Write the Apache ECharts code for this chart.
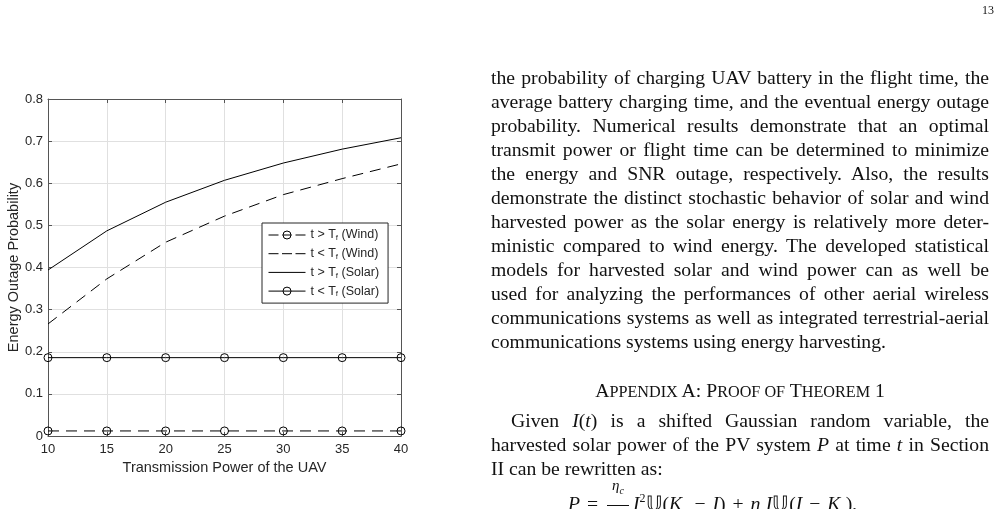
<!DOCTYPE html>
<html>
<head>
<meta charset="utf-8">
<script src="https://cdn.jsdelivr.net/npm/echarts@6/dist/echarts.min.js"></script>
<style>
  html, body { margin: 0; padding: 0; background: #fff; }
  body { width: 999px; height: 509px; overflow: hidden; position: relative; }
  #chart { position: absolute; left: 0; top: 0; width: 999px; height: 509px; }
  .txt { position: absolute; font-family: "Liberation Serif", serif; font-size: 19.7px; line-height: 24px; color: #111; }
  .col { left: 491px; width: 498px; }
  .col div { text-align: justify; text-align-last: justify; }
  .col div.last { text-align-last: left; }
  .col div.ind { padding-left: 20px; }
  .head { text-align: center; }
  .head span { font-size: 16.2px; }
  .pg { position: absolute; left: 982px; top: 3px; font-family: "Liberation Serif", serif; font-size: 12px; color: #111; }
  .eq { position: absolute; left: 568px; top: 476px; font-family: "Liberation Serif", serif; font-size: 19.7px; white-space: nowrap; color: #111; word-spacing: 2px; }
  .frac { display: inline-block; vertical-align: middle; text-align: center; font-size: 15px; margin: 0 4px 0 2px; }
  .frac .num { display: block; line-height: 18px; padding: 0 2px 5px 2px; border-bottom: 1px solid #111; }
  .frac .den { display: block; line-height: 18px; padding-top: 5px; }
</style>
</head>
<body>
<div id="chart"></div>

<div class="pg">13</div>

<div class="txt col" style="top:65px">
  <div>the probability of charging UAV battery in the flight time, the</div>
  <div>average battery charging time, and the eventual energy outage</div>
  <div>probability. Numerical results demonstrate that an optimal</div>
  <div>transmit power or flight time can be determined to minimize</div>
  <div>the energy and SNR outage, respectively. Also, the results</div>
  <div>demonstrate the distinct stochastic behavior of solar and wind</div>
  <div>harvested power as the solar energy is relatively more deter-</div>
  <div>ministic compared to wind energy. The developed statistical</div>
  <div>models for harvested solar and wind power can as well be</div>
  <div>used for analyzing the performances of other aerial wireless</div>
  <div>communications systems as well as integrated terrestrial-aerial</div>
  <div class="last">communications systems using energy harvesting.</div>
</div>

<div class="txt col head" style="top:378px">A<span>PPENDIX</span> A: P<span>ROOF OF</span> T<span>HEOREM</span> 1</div>

<div class="txt col" style="top:408px">
  <div class="ind">Given <i>I</i>(<i>t</i>) is a shifted Gaussian random variable, the</div>
  <div>harvested solar power of the PV system <i>P</i> at time <i>t</i> in Section</div>
  <div class="last">II can be rewritten as:</div>
</div>

<div class="eq"><i>P</i> = <span class="frac"><span class="num"><i>η</i><sub style="font-size:10px"><i>c</i></sub></span><span class="den">2<i>K</i><sub style="font-size:10px"><i>c</i></sub></span></span><i>I</i><sup style="font-size:12px">2</sup>𝕌(<i>K</i><sub style="font-size:12px"><i>c</i></sub> − <i>I</i>) + <i>η</i><sub style="font-size:12px"><i>c</i></sub><i>I</i>𝕌(<i>I</i> − <i>K</i><sub style="font-size:12px"><i>c</i></sub>),</div>

<script>
// ---- data ----
const power = [10, 15, 20, 25, 30, 35, 40];
const windAbove = [0.012, 0.012, 0.012, 0.012, 0.012, 0.012, 0.012];   // t > Tf (Wind)
const windBelow = [0.266, 0.373, 0.460, 0.522, 0.573, 0.611, 0.646];   // t < Tf (Wind)
const solarAbove = [0.394, 0.487, 0.555, 0.607, 0.648, 0.681, 0.708];  // t > Tf (Solar)
const solarBelow = [0.186, 0.186, 0.186, 0.186, 0.186, 0.186, 0.186];  // t < Tf (Solar)

const seriesNames = ["t > Tf (Wind)", "t < Tf (Wind)", "t > Tf (Solar)", "t < Tf (Solar)"];
const xTicks = ["10", "15", "20", "25", "30", "35", "40"];
const yTicks = ["0", "0.1", "0.2", "0.3", "0.4", "0.5", "0.6", "0.7", "0.8"];

const FONT = "Liberation Sans";
const AXIS_C = "#555";
const TEXT_C = "#262626";

function makeLine(name, values, dashed, marker) {
  return {
    name: name,
    type: "line",
    data: power.map((p, i) => [p, values[i]]),
    symbol: marker ? "circle" : "none",
    symbolSize: 8,
    showSymbol: marker,
    lineStyle: { color: "#000", width: 1, type: dashed ? [11, 7] : "solid" },
    itemStyle: marker
      ? { color: "rgba(255,255,255,0)", borderColor: "#000", borderWidth: 1 }
      : { color: "rgba(0,0,0,0)", borderColor: "rgba(0,0,0,0)", borderWidth: 0 },
    emphasis: { disabled: true },
    silent: true,
  };
}

const chart = echarts.init(document.getElementById("chart"));

chart.setOption({
  animation: false,
  backgroundColor: "transparent",
  grid: { left: 48, top: 99, width: 353, height: 337 },
  legend: {
    data: [
      { name: seriesNames[0], lineStyle: { type: [10, 4, 9, 4] } },
      { name: seriesNames[1], lineStyle: { type: [10, 3.5] } },
      { name: seriesNames[2] },
      { name: seriesNames[3] },
    ],
    orient: "vertical",
    left: 262,
    top: 223,
    padding: [5, 9, 5, 6],
    itemWidth: 37,
    itemHeight: 10,
    itemGap: 4.7,
    selectedMode: false,
    backgroundColor: "#fff",
    borderColor: "#262626",
    borderWidth: 1,
    lineStyle: { width: 1 },
    itemStyle: { borderWidth: 1 },
    formatter: (name) => name.replace("Tf", "T{s|f}"),
    textStyle: {
      fontFamily: FONT,
      fontSize: 12.5,
      lineHeight: 14,
      color: TEXT_C,
      rich: {
        s: { fontFamily: FONT, fontSize: 8, lineHeight: 7, verticalAlign: "bottom", color: TEXT_C },
      },
    },
  },
  xAxis: [
    {
      type: "value",
      min: 10,
      max: 40,
      interval: 5,
      position: "bottom",
      name: "Transmission Power of the UAV",
      nameLocation: "middle",
      nameGap: 24,
      nameTextStyle: { fontFamily: FONT, fontSize: 14.5, color: TEXT_C },
      axisLine: { show: true, onZero: false, lineStyle: { color: AXIS_C, width: 1 } },
      axisTick: { show: true, inside: true, length: 4, lineStyle: { color: AXIS_C } },
      axisLabel: {
        fontFamily: FONT, fontSize: 13, color: TEXT_C, margin: 7,
        formatter: (v, i) => xTicks[i],
      },
      splitLine: { show: true, lineStyle: { color: "#e0e0e0", width: 1 } },
    },
    {
      type: "value",
      min: 10,
      max: 40,
      interval: 5,
      position: "top",
      axisLine: { show: true, onZero: false, lineStyle: { color: AXIS_C, width: 1 } },
      axisTick: { show: true, inside: true, length: 4, lineStyle: { color: AXIS_C } },
      axisLabel: { show: false },
      splitLine: { show: false },
    },
  ],
  yAxis: [
    {
      type: "value",
      min: 0,
      max: 0.8,
      interval: 0.1,
      position: "left",
      name: "Energy Outage Probability",
      nameLocation: "middle",
      nameGap: 26,
      nameTextStyle: { fontFamily: FONT, fontSize: 14.5, color: TEXT_C },
      axisLine: { show: true, onZero: false, lineStyle: { color: AXIS_C, width: 1 } },
      axisTick: { show: true, inside: true, length: 4, lineStyle: { color: AXIS_C } },
      axisLabel: {
        fontFamily: FONT, fontSize: 13, color: TEXT_C, margin: 5,
        formatter: (v, i) => yTicks[i],
      },
      splitLine: { show: true, lineStyle: { color: "#e0e0e0", width: 1 } },
    },
    {
      type: "value",
      min: 0,
      max: 0.8,
      interval: 0.1,
      position: "right",
      axisLine: { show: true, onZero: false, lineStyle: { color: AXIS_C, width: 1 } },
      axisTick: { show: true, inside: true, length: 4, lineStyle: { color: AXIS_C } },
      axisLabel: { show: false },
      splitLine: { show: false },
    },
  ],
  series: [
    makeLine(seriesNames[0], windAbove, true, true),
    makeLine(seriesNames[1], windBelow, true, false),
    makeLine(seriesNames[2], solarAbove, false, false),
    makeLine(seriesNames[3], solarBelow, false, true),
  ],
});
</script>
</body>
</html>
